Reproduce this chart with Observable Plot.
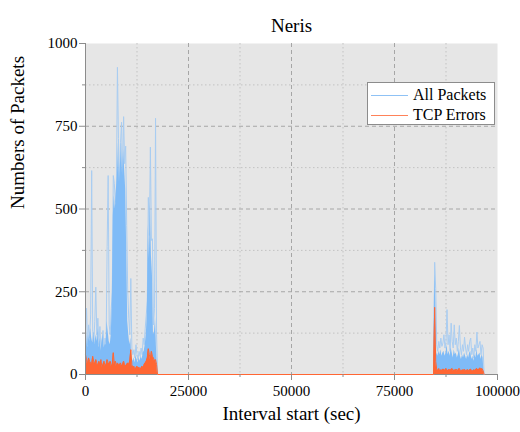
<!DOCTYPE html>
<html><head><meta charset="utf-8">
<script src="https://cdn.jsdelivr.net/npm/d3@7"></script>
<script src="https://cdn.jsdelivr.net/npm/@observablehq/plot@0.6"></script>
<style>
body{margin:0;background:#fff;font-family:"Liberation Serif","Times New Roman",serif;}
#wrap{position:relative;width:520px;height:432px;}
#legend{position:absolute;left:367px;top:82px;width:128px;height:43px;background:#fff;border:1px solid #8c8c8c;box-sizing:border-box;font-size:16px;color:#000;}
.sw{position:absolute;left:3px;width:37px;height:1px;}
.lt{position:absolute;left:45px;line-height:18px;white-space:nowrap;}
</style>
</head><body>
<div id="wrap"><div id="chart"></div><div id="legend"></div></div>
<script>
const title = "Neris";
const xTitle = "Interval start (sec)";
const yTitle = "Numbers of Packets";
const seriesNames = ["All Packets", "TCP Errors"];
const seriesColors = ["#8fc2f5", "#ff8259"];

const xTicks = [0, 25000, 50000, 75000, 100000];
const xMinor = [12500, 37500, 62500, 87500];
const yTicks = [0, 250, 500, 750, 1000];
const yMinor = [125, 375, 625, 875];

const step = 250;            // sampling interval (sec)
const seg1Start = 0;
const seg1Peak = [120,200,90,150,110,180,616,130,95,160,
  264,120,170,90,145,70,100,133,80,110,
  90,386,601,150,120,200,250,601,577,520,
  560,928,713,560,700,762,600,779,637,690,
  450,250,170,120,290,80,60,75,50,90,
  60,45,70,55,80,60,110,90,140,180,
  223,535,420,687,405,410,150,200,774,120];
const seg1Body = [90,130,80,120,100,140,110,95,130,90,
  120,100,140,80,110,70,100,120,80,90,
  90,160,130,100,90,120,220,480,540,500,
  560,600,700,580,640,700,600,680,620,560,
  380,160,120,90,110,45,40,50,35,55,
  45,35,50,40,55,45,65,70,90,120,
  180,450,350,520,360,300,120,130,170,70];
const seg1Err = [60,45,30,50,40,35,30,55,40,30,
  45,35,25,40,30,45,20,30,40,25,
  30,45,35,30,40,25,30,66,30,40,
  25,35,30,28,35,25,30,40,30,25,
  30,35,30,40,75,30,20,25,15,20,
  25,18,22,15,20,25,20,30,35,40,
  50,78,60,45,70,55,50,40,45,30];
const gapStart = 17500;
const seg2Start = 84500;
const seg2Peak = [0,339,260,90,70,100,80,110,85,95,
  120,80,100,196,90,120,70,155,100,80,
  150,90,110,70,100,148,80,60,90,70,
  113,80,60,90,70,100,110,60,80,50,
  90,70,128,80,90,100,60,90,80,0];
const seg2Body = [0,300,220,65,55,70,60,75,55,65,
  70,55,65,90,60,70,55,80,65,50,
  75,60,65,50,60,80,55,45,60,50,
  65,55,45,60,50,65,70,45,55,40,
  60,50,75,55,60,65,45,60,50,0];
const seg2Err = [0,203,40,15,12,18,10,14,12,16,
  15,12,18,14,10,16,12,15,18,10,
  14,12,16,10,15,18,12,10,14,12,
  16,10,12,15,10,14,16,12,10,14,
  12,15,18,14,16,20,15,18,12,0];

const rows = [];
seg1Peak.forEach((v, i) => rows.push({x: seg1Start + i * step, peak: v, body: seg1Body[i], err: seg1Err[i]}));
rows.push({x: gapStart, peak: 0, body: 0, err: 0});
seg2Peak.forEach((v, i) => rows.push({x: seg2Start + i * step, peak: v, body: seg2Body[i], err: seg2Err[i]}));

const axisColor = "#8c8c8c";
const font = "'Liberation Serif', 'Times New Roman', serif";
const chart = Plot.plot({
  width: 520, height: 432,
  marginLeft: 85, marginRight: 23, marginTop: 43, marginBottom: 58,
  x: {domain: [0, 100000]},
  y: {domain: [0, 1000]},
  style: {fontFamily: font, fontSize: "15px", color: "#000", background: "transparent"},
  marks: [
    Plot.frame({fill: "#e6e6e6", stroke: null}),
    Plot.ruleY(yMinor, {stroke: "#c2c2c2", strokeDasharray: "1.5,2.5"}),
    Plot.ruleX(xMinor, {stroke: "#c2c2c2", strokeDasharray: "1.5,2.5"}),
    Plot.ruleY(yTicks.filter(d => d > 0 && d < 1000), {stroke: "#a6a6a6", strokeDasharray: "4,3"}),
    Plot.ruleX(xTicks.filter(d => d > 0 && d < 100000), {stroke: "#a6a6a6", strokeDasharray: "4,3"}),
    Plot.ruleY([0], {stroke: axisColor}),
    Plot.lineY(rows, {x: "x", y: "peak", stroke: "#a9cdf2", strokeWidth: 1}),
    Plot.areaY(rows, {x: "x", y: "body", fill: "#7fbbf7"}),
    Plot.areaY(rows, {x: "x", y: "err", fill: "#ff6633"}),
    Plot.lineY(rows, {x: "x", y: "err", stroke: "#ff6633", strokeWidth: 1}),
    Plot.ruleX([0], {stroke: axisColor}),
    Plot.axisY(yTicks, {tickSize: 6, tickPadding: 2, stroke: axisColor, fill: "#000", label: null, tickFormat: "d", fontSize: 15, fontFamily: font}),
    Plot.axisY(yMinor, {tickSize: 3, text: null, label: null, stroke: axisColor}),
    Plot.axisX(xTicks, {tickSize: 6, tickPadding: 5, stroke: axisColor, fill: "#000", label: null, tickFormat: "d", fontSize: 15, fontFamily: font}),
    Plot.axisX(xMinor, {tickSize: 3, text: null, label: null, stroke: axisColor}),
    Plot.text([title], {text: d => d, frameAnchor: "top", dy: -25, fontSize: 19, fill: "#000", fontFamily: font}),
    Plot.text([xTitle], {text: d => d, frameAnchor: "bottom", dy: 45, fontSize: 19, fill: "#000", fontFamily: font}),
    Plot.text([yTitle], {text: d => d, frameAnchor: "left", dx: -68, rotate: -90, fontSize: 19, fill: "#000", fontFamily: font})
  ]
});
document.getElementById("chart").appendChild(chart);

const legend = document.getElementById("legend");
seriesNames.forEach((name, i) => {
  const sw = document.createElement("div");
  sw.className = "sw";
  sw.style.top = (12 + i * 20) + "px";
  sw.style.background = seriesColors[i];
  legend.appendChild(sw);
  const t = document.createElement("div");
  t.className = "lt";
  t.style.top = (3 + i * 20) + "px";
  t.textContent = name;
  legend.appendChild(t);
});
</script>
</body></html>
